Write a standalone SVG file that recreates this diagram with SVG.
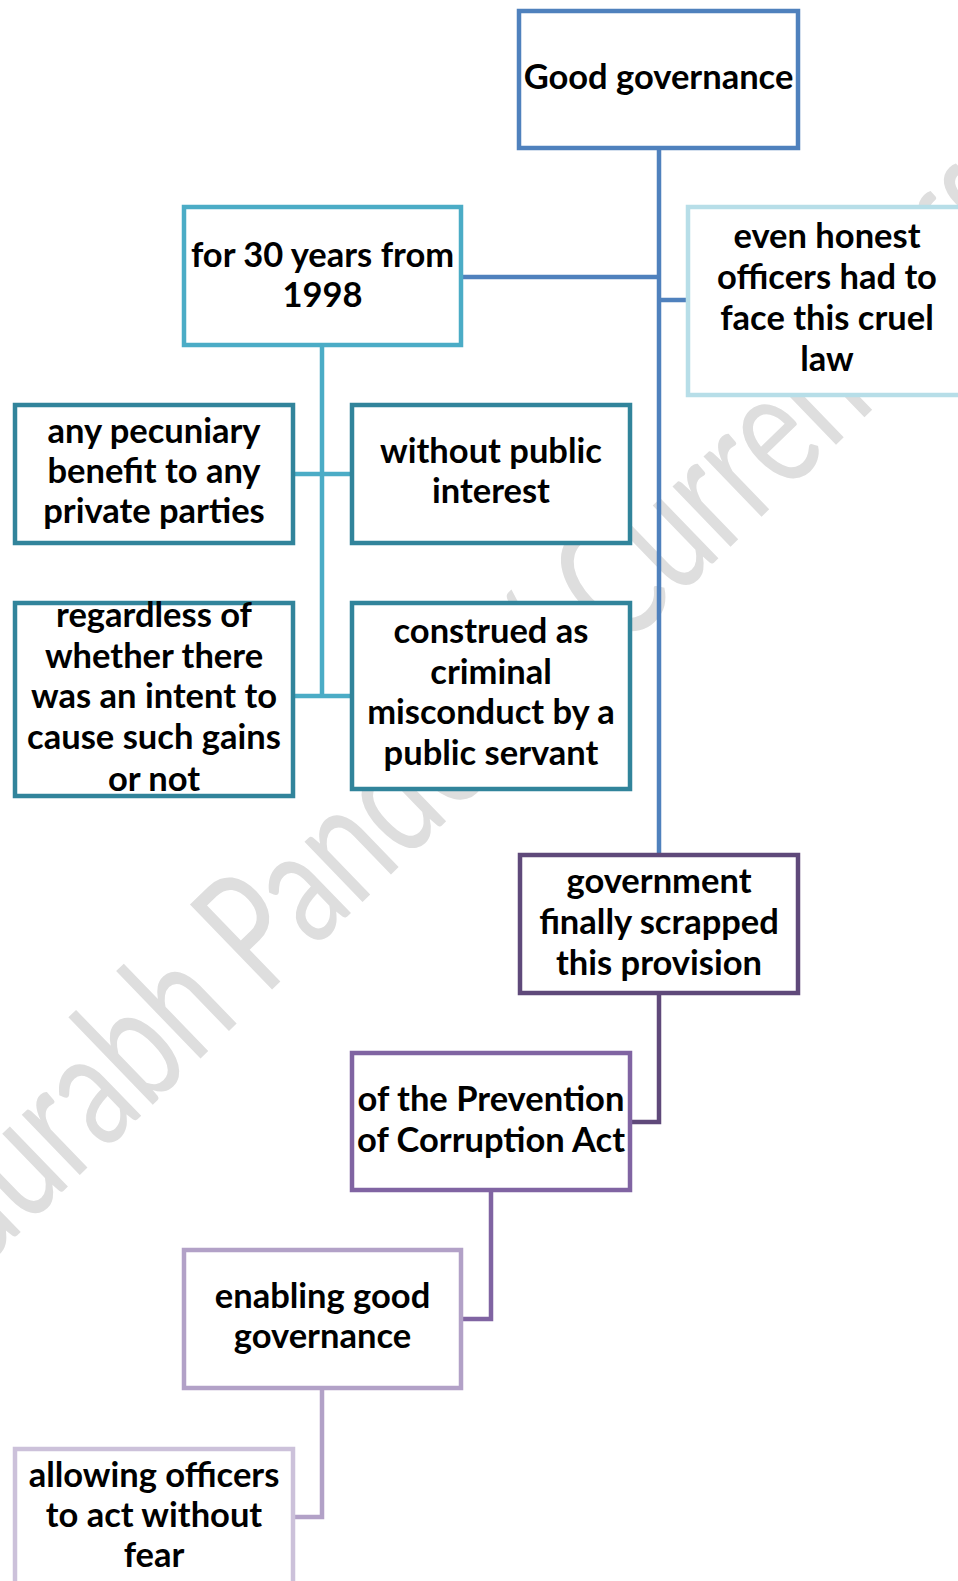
<svg xmlns="http://www.w3.org/2000/svg" width="958" height="1581" viewBox="0 0 958 1581">
<style>
.bg{fill:#ffffff}
.box{fill:#ffffff;stroke-width:4.5;stroke-linejoin:miter}
.lbl{font-family:Lato,"Liberation Sans",sans-serif;font-weight:700;font-size:34.5px;fill:#000000;text-anchor:middle}
.wm{font-family:Lato,"Liberation Sans",sans-serif;font-weight:400;font-size:165px;fill:#DEDEDE}
.con{fill:none;stroke-width:4.5;stroke-linecap:butt;stroke-linejoin:miter}
</style>
<rect class="bg" x="0" y="0" width="958" height="1581"/>
<g id="watermark">
<text class="wm" transform="translate(-62,1312) rotate(-44) scale(0.72,1)">Saurabh Pandey / Current Affairs</text>
</g>
<g id="connectors">
<path class="con" stroke="#4F81BD" d="M659,150 V853 M463,277 H659 M659,300 H688"/>
<path class="con" stroke="#4BACC6" d="M322,347 V696 M295,474 H352 M295,696 H352"/>
<path class="con" stroke="#5F497A" d="M659,995 V1122 H632"/>
<path class="con" stroke="#8064A2" d="M491,1192 V1319 H463"/>
<path class="con" stroke="#B2A1C7" d="M322,1390 V1517 H295"/>
</g>
<g id="n-good">
<rect class="box" stroke="#4F81BD" x="519" y="11" width="279" height="137"/>
<text class="lbl" x="658.5" y="89">Good governance</text>
</g>
<g id="n-years">
<rect class="box" stroke="#4BACC6" x="184" y="207" width="277" height="138"/>
<text class="lbl" x="322.5" y="267">for 30 years from</text>
<text class="lbl" x="322.5" y="307">1998</text>
</g>
<g id="n-honest">
<rect class="box" stroke="#B7DEE8" x="688" y="207" width="278" height="188"/>
<text class="lbl" x="827" y="248">even honest</text>
<text class="lbl" x="827" y="289">officers had to</text>
<text class="lbl" x="827" y="330">face this cruel</text>
<text class="lbl" x="827" y="371">law</text>
</g>
<g id="n-pecuniary">
<rect class="box" stroke="#31849B" x="15" y="405" width="278" height="138"/>
<text class="lbl" x="154" y="443">any pecuniary</text>
<text class="lbl" x="154" y="483">benefit to any</text>
<text class="lbl" x="154" y="523">private parties</text>
</g>
<g id="n-public">
<rect class="box" stroke="#31849B" x="352" y="405" width="278" height="138"/>
<text class="lbl" x="491" y="463">without public</text>
<text class="lbl" x="491" y="503">interest</text>
</g>
<g id="n-regardless">
<rect class="box" stroke="#31849B" x="15" y="603" width="278" height="193"/>
<text class="lbl" x="154" y="627">regardless of</text>
<text class="lbl" x="154" y="668">whether there</text>
<text class="lbl" x="154" y="708">was an intent to</text>
<text class="lbl" x="154" y="749">cause such gains</text>
<text class="lbl" x="154" y="791">or not</text>
</g>
<g id="n-construed">
<rect class="box" stroke="#31849B" x="352" y="603" width="278" height="186"/>
<text class="lbl" x="491" y="643">construed as</text>
<text class="lbl" x="491" y="684">criminal</text>
<text class="lbl" x="491" y="724">misconduct by a</text>
<text class="lbl" x="491" y="765">public servant</text>
</g>
<g id="n-government">
<rect class="box" stroke="#5F497A" x="520" y="855" width="278" height="138"/>
<text class="lbl" x="659" y="893">government</text>
<text class="lbl" x="659" y="934">finally scrapped</text>
<text class="lbl" x="659" y="975">this provision</text>
</g>
<g id="n-prevention">
<rect class="box" stroke="#8064A2" x="352" y="1053" width="278" height="137"/>
<text class="lbl" x="491" y="1111">of the Prevention</text>
<text class="lbl" x="491" y="1152">of Corruption Act</text>
</g>
<g id="n-enabling">
<rect class="box" stroke="#B2A1C7" x="184" y="1250" width="277" height="138"/>
<text class="lbl" x="322.5" y="1308">enabling good</text>
<text class="lbl" x="322.5" y="1348">governance</text>
</g>
<g id="n-allowing">
<rect class="box" stroke="#CCC1DA" x="15" y="1449" width="278" height="140"/>
<text class="lbl" x="154" y="1487">allowing officers</text>
<text class="lbl" x="154" y="1527">to act without</text>
<text class="lbl" x="154" y="1567">fear</text>
</g>
</svg>
